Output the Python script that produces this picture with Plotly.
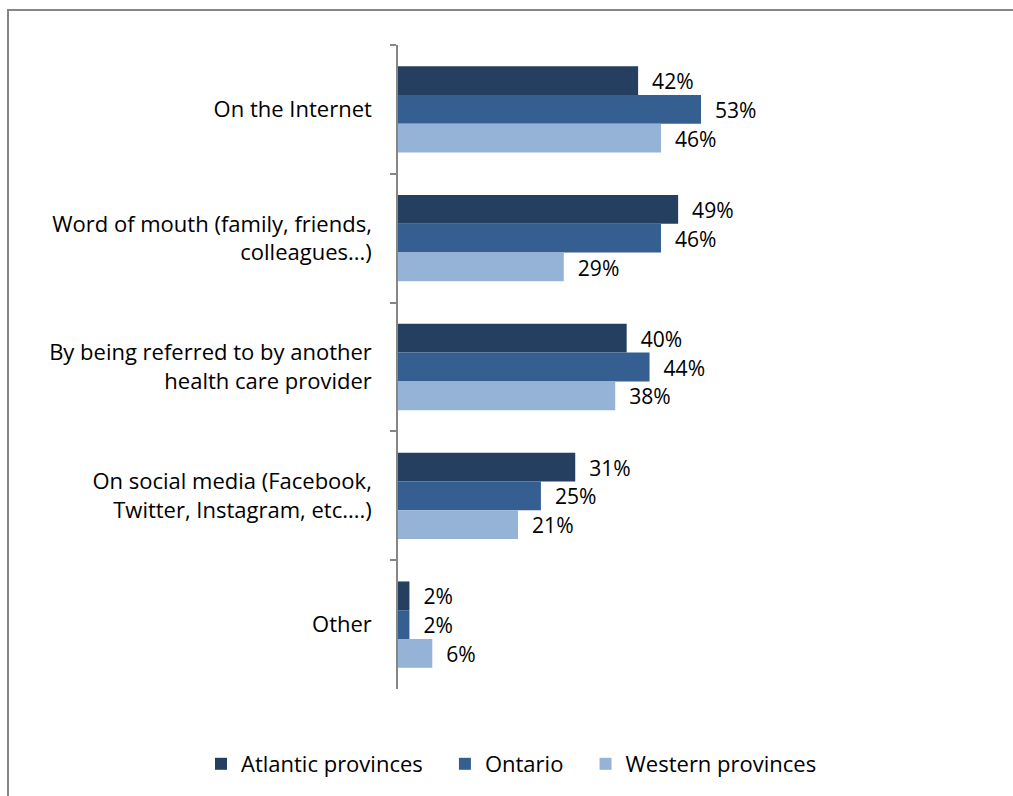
import plotly.graph_objects as go

categories = [
    "On the Internet",
    "Word of mouth (family, friends,<br>colleagues...)",
    "By being referred to by another<br>health care provider",
    "On social media (Facebook,<br>Twitter, Instagram, etc....)",
    "Other",
]
series_names = ["Atlantic provinces", "Ontario", "Western provinces"]
atlantic = [42, 49, 40, 31, 2]
ontario = [53, 46, 44, 25, 2]
western = [46, 29, 38, 21, 6]
colors = ["#253F61", "#355F91", "#95B3D7"]

FONT = "Open Sans"
W, H = 1013, 796
L, R, T, B = 398, 23, 45, 106
plot_w = W - L - R
plot_h = H - T - B
PAD = "\u00a0\u00a0\u00a0"

fig = go.Figure()
for name, vals, col in zip(series_names, [atlantic, ontario, western], colors):
    fig.add_trace(go.Bar(
        y=categories, x=vals, name=name + PAD, orientation="h",
        marker=dict(color=col, line=dict(width=0)),
        text=[f"{v}%" for v in vals],
        textposition="outside",
        texttemplate="  %{text}",
        textfont=dict(family=FONT, size=22, color="black"),
        cliponaxis=False,
    ))

# frame around chart
px2x = lambda p: (p - L) / plot_w
py2y = lambda p: (H - B - p) / plot_h
fig.add_shape(type="rect", xref="paper", yref="paper",
              x0=px2x(8), x1=px2x(1040), y0=py2y(830), y1=py2y(10),
              line=dict(color="#868686", width=2), fillcolor="rgba(0,0,0,0)")

fig.update_layout(
    width=W, height=H,
    margin=dict(l=L, r=R, t=T, b=B),
    paper_bgcolor="white", plot_bgcolor="white",
    barmode="group", bargap=0.33, bargroupgap=0,
    font=dict(family=FONT, size=22, color="black"),
    showlegend=True,
    legend=dict(orientation="h", xref="paper", yref="paper",
                x=px2x(201), y=py2y(764), xanchor="left", yanchor="middle",
                font=dict(family=FONT, size=22, color="black"),
                itemwidth=30, traceorder="normal"),
    xaxis=dict(range=[0, plot_w / 5.717], visible=False, showgrid=False, zeroline=False),
    yaxis=dict(autorange="reversed", type="category", tickson="boundaries",
               ticks="outside", ticklen=6, tickcolor="#868686", tickwidth=1.5,
               showline=True, linecolor="#868686", linewidth=1.5,
               showgrid=False, ticklabelstandoff=20,
               tickfont=dict(family=FONT, size=22, color="black")),
)

fig.write_html("out.html", config={"displayModeBar": False},
               post_script="document.body.style.margin='0px';document.body.style.overflow='hidden';")
